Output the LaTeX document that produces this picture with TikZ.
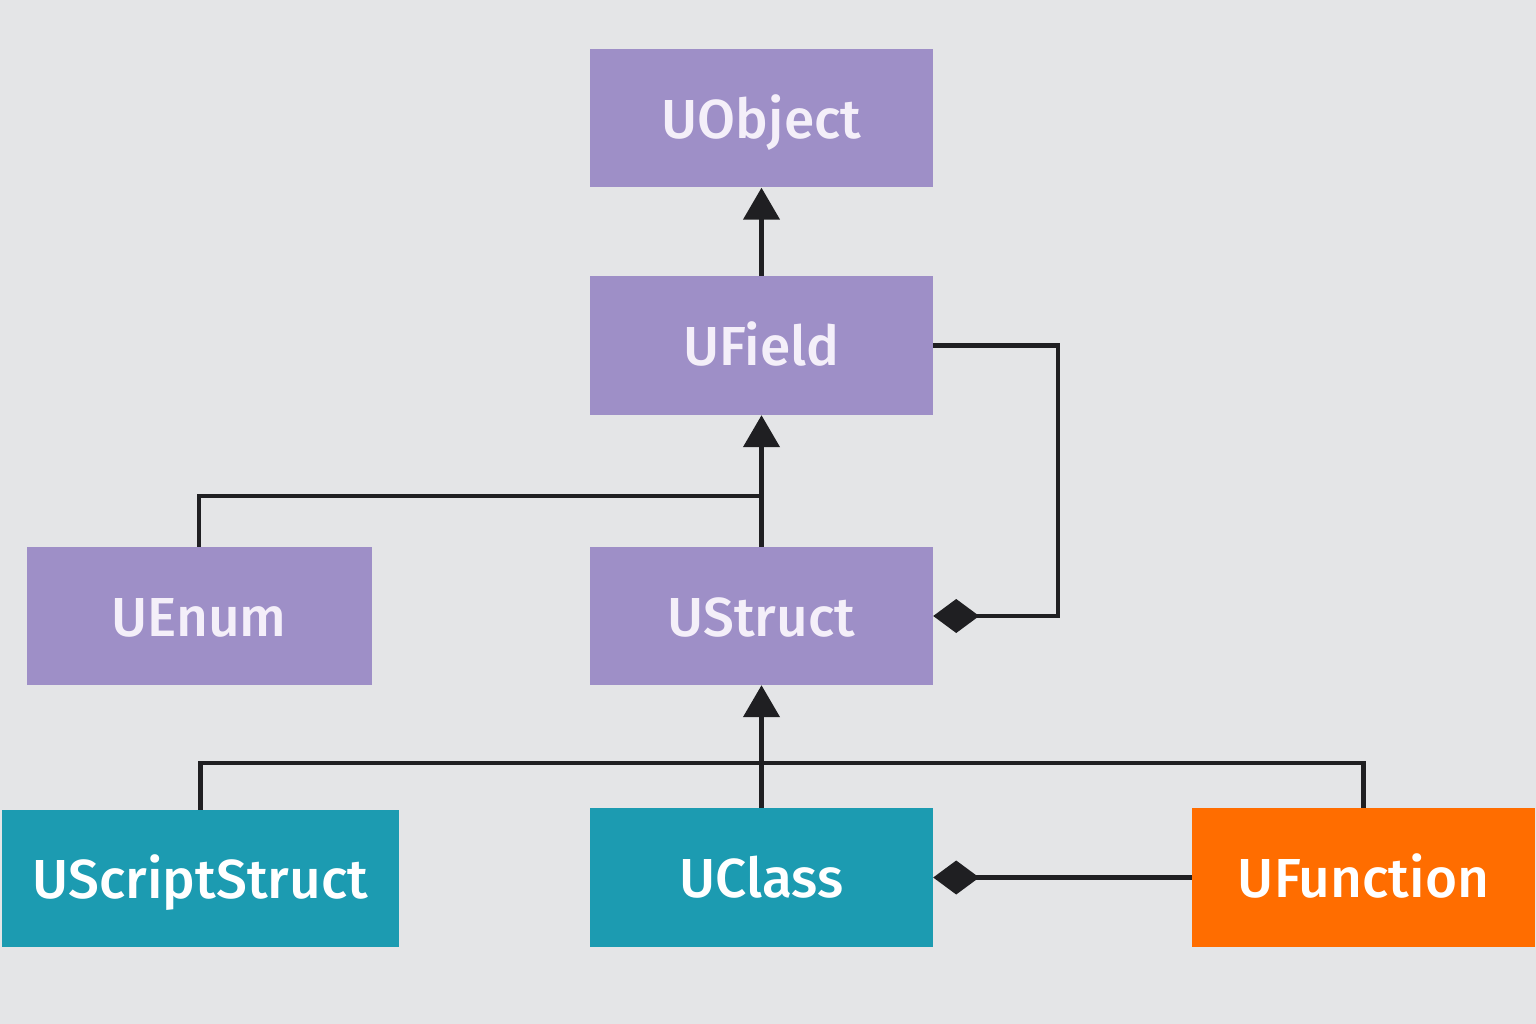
\documentclass[tikz,border=0pt]{standalone}
\usepackage{fontspec}
\newfontfamily\boxfont{Fira Sans Medium}
\usetikzlibrary{arrows.meta}
\definecolor{bg}{HTML}{E4E5E7}
\definecolor{purp}{HTML}{9E8FC7}
\definecolor{teal2}{HTML}{1C9BB1}
\definecolor{oran}{HTML}{FF6D00}
\definecolor{ink}{HTML}{1F1F22}
\definecolor{ptext}{HTML}{F4EFF9}
\begin{document}
\begin{tikzpicture}[x=1pt,y=-1pt,
  cls/.style={rectangle,inner sep=0pt,minimum height=138pt,
    font=\boxfont\fontsize{55}{60}\selectfont,text height=40pt,text depth=0pt},
  pcls/.style={cls,fill=purp,text=ptext,minimum width=343pt},
  tcls/.style={cls,fill=teal2,text=white},
  ocls/.style={cls,fill=oran,text=white},
  conn/.style={draw=ink,line width=4.5pt},
  inh/.style={conn,-{Triangle[width=36pt,length=32pt]}},
  comp/.style={conn,-{Diamond[width=34pt,length=46pt]}}]
\fill[bg] (0,0) rectangle (1536,1024);
\useasboundingbox (0,0) rectangle (1536,1024);
\node[pcls] (uobject) at (761.5,118.5) {UObject};
\node[pcls,minimum height=139pt] (ufield) at (761.5,345.5) {UField};
\node[pcls,minimum width=345pt] (uenum) at (199,616) {UEnum};
\node[pcls] (ustruct) at (761.5,616) {UStruct};
\node[tcls,minimum width=397pt,minimum height=137pt] (uscript) at (200.5,878.5) {UScriptStruct};
\node[tcls,minimum width=343pt,minimum height=139pt] (uclass) at (761.5,877.5) {UClass};
\node[ocls,minimum width=343pt,minimum height=139pt] (ufunc) at (1363.5,877.5) {UFunction};
\coordinate (j1) at (761.5,496);
\coordinate (j2) at (761.5,763);
\coordinate (r1) at (1058,345.5);
\coordinate (r2) at (1058,616);
% inheritance
\draw[inh] (ufield.north) -- (uobject.south);
\draw[inh] (ustruct.north) -- (ufield.south);
\draw[conn] (uenum.north) |- (j1);
\draw[inh] (uclass.north) -- (ustruct.south);
\draw[conn] (uscript.north) |- (j2);
\draw[conn] (ufunc.north) |- (j2);
% composition
\draw[comp] (ufield.east) -- (r1) -- (r2) -- (ustruct.east);
\draw[comp] (ufunc.west) -- (uclass.east);
\end{tikzpicture}
\end{document}
